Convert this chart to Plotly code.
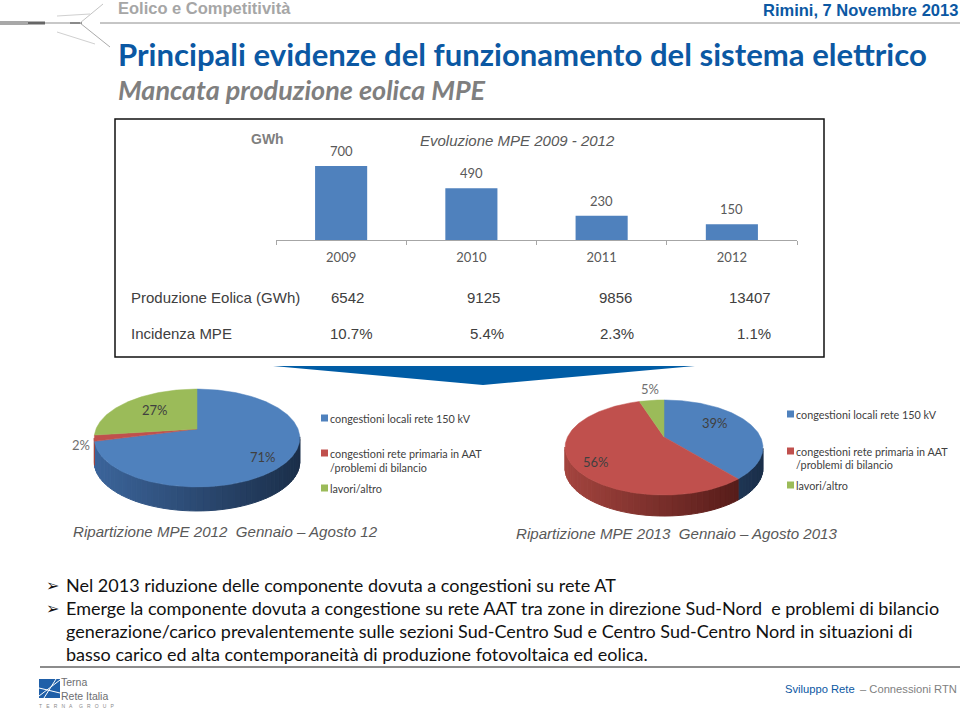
import numpy as np
import plotly.graph_objects as go

W, H = 960, 709

# ---- data ----
years = ["2009", "2010", "2011", "2012"]
mpe_gwh = [700, 490, 230, 150]
produzione = ["6542", "9125", "9856", "13407"]
incidenza = ["10.7%", "5.4%", "2.3%", "1.1%"]
pie_labels = ["congestioni locali rete 150 kV",
              "congestioni rete primaria in AAT<br>/problemi di bilancio",
              "lavori/altro"]
pie_2012 = [71, 2, 27]
pie_2013 = [39, 56, 5]
bullets = [
    "Nel 2013 riduzione delle componente dovuta a congestioni su rete AT",
    "Emerge la componente dovuta a congestione su rete AAT tra zone in direzione Sud-Nord  e problemi di bilancio",
    "generazione/carico prevalentemente sulle sezioni Sud-Centro Sud e Centro Sud-Centro Nord in situazioni di",
    "basso carico ed alta contemporaneità di produzione fotovoltaica ed eolica.",
]

# ---- styles ----
BLUE, RED, GREEN = "#4f81bd", "#c0504d", "#9bbb59"
WALLS = [(("#3c659b"), ("#1b2f4a")), (("#a4453f"), ("#4c1715")), (("#7f9a48"), ("#4f6228"))]
NAVY = "#0b58a3"
LATO, ARIAL = "Lato", "Liberation Sans"


def hex2rgb(c):
    return np.array([int(c[i:i + 2], 16) for i in (1, 3, 5)], float)


def mix(a, b, t):
    r = hex2rgb(a) * (1 - t) + hex2rgb(b) * t
    return "rgb(%d,%d,%d)" % tuple(r)


fig = go.Figure()

# bar chart through its own axes
fig.add_trace(go.Bar(x=years, y=mpe_gwh, width=0.4, marker=dict(color=BLUE, line=dict(width=0)),
                     hoverinfo="skip", xaxis="x", yaxis="y"))


def pie3d(values, cx, cy, a, b, k, depth):
    """Perspective 3D pie, clockwise from twelve o'clock, on the page axes."""
    fr = np.array(values, float) / sum(values)
    edges = np.concatenate([[0], np.cumsum(fr)]) * 2 * np.pi

    def rim(th):
        X, Y = np.sin(th), np.cos(th)
        w = 1 + k * Y
        return cx + a * X / w, cy - b * Y / w

    all_x = rim(np.linspace(0, 2 * np.pi, 721))[0]
    xmin, xmax = all_x.min(), all_x.max()
    # side wall, shaded from left to right
    for i, col in enumerate(WALLS):
        n = max(int((edges[i + 1] - edges[i]) / np.radians(3)), 1)
        th = np.linspace(edges[i], edges[i + 1], n + 1)
        for t0, t1 in zip(th[:-1], th[1:]):
            if np.cos((t0 + t1) / 2) >= -k:
                continue
            x0, y0 = rim(t0)
            x1, y1 = rim(t1)
            f = ((x0 + x1) / 2 - xmin) / (xmax - xmin)
            c = mix(col[0], col[1], f)
            fig.add_trace(go.Scatter(x=[x0, x1, x1, x0, x0], y=[y0, y1, y1 + depth, y0 + depth, y0],
                                     mode="lines", fill="toself", fillcolor=c,
                                     line=dict(color=c, width=1), hoverinfo="skip",
                                     xaxis="x2", yaxis="y2"))
    # top face
    for i, col in enumerate([BLUE, RED, GREEN]):
        th = np.linspace(edges[i], edges[i + 1], max(int(fr[i] * 360), 2) + 1)
        xs, ys = rim(th)
        fig.add_trace(go.Scatter(x=np.r_[cx, xs, cx], y=np.r_[cy, ys, cy], mode="lines", fill="toself",
                                 fillcolor=col, line=dict(color=col, width=0.5), hoverinfo="skip",
                                 xaxis="x2", yaxis="y2"))


pie3d(pie_2012, cx=197, cy=429, a=101, b=47.3, k=0.184, depth=24)
pie3d(pie_2013, cx=664, cy=437, a=96.5, b=45.2, k=0.221, depth=21)

ann = []


def text(x, y, s, size, color="#404040", font=LATO, anchor="left", bold=False, italic=False):
    if bold:
        s = f"<b>{s}</b>"
    if italic:
        s = f"<i>{s}</i>"
    ann.append(dict(x=x / W, y=1 - y / H, xref="paper", yref="paper", text=s, showarrow=False,
                    xanchor=anchor, yanchor="middle", align="left",
                    font=dict(size=size, color=color, family=font), borderpad=0, borderwidth=0))


# header
text(118, 8, "Eolico e Competitività", 16.5, "#a6a6a6", ARIAL, bold=True)
text(958, 10, "Rimini, 7 Novembre 2013", 16.5, NAVY, ARIAL, "right", bold=True)
text(118, 54, "Principali evidenze del funzionamento del sistema elettrico", 31.1, NAVY, bold=True)
text(118, 89.5, "Mancata produzione eolica MPE", 27, "#7f7f7f", bold=True, italic=True)

# framed panel
text(251, 139, "GWh", 14, "#7f7f7f", ARIAL, bold=True)
text(420, 140, "Evoluzione MPE 2009 - 2012", 15, "#595959", ARIAL, italic=True)
for i, v in enumerate(mpe_gwh):
    ann.append(dict(x=i, y=v, xref="x", yref="y", text=str(v), showarrow=False, yanchor="bottom",
                    yshift=5, font=dict(size=13, color="#595959", family=LATO)))
text(131, 297, "Produzione Eolica (GWh)", 15, "#404040", ARIAL)
text(131, 334, "Incidenza MPE", 15, "#404040", ARIAL)
for x, s in zip([331, 467, 599, 729], produzione):
    text(x, 297, s, 15, "#404040", ARIAL)
for x, s in zip([330, 470, 600, 737], incidenza):
    text(x, 334, s, 15, "#404040", ARIAL)

# pie percentages
for (x, y), v, col in zip([(263, 457), (81, 445), (155, 410)], pie_2012, ["#404040", "#6f6f6f", "#404040"]):
    text(x, y, f"{v}%", 13, col, LATO, "center")
for (x, y), v, col in zip([(715, 423), (596, 462), (650, 389)], pie_2013, ["#404040", "#404040", "#6f6f6f"]):
    text(x, y, f"{v}%", 13, col, LATO, "center")

shapes = []


def rect(x0, y0, x1, y1, fill, line=None, lw=0):
    shapes.append(dict(type="rect", xref="paper", yref="paper", x0=x0 / W, x1=x1 / W, y0=1 - y0 / H, y1=1 - y1 / H,
                       fillcolor=fill, line=dict(color=line or fill, width=lw), layer="below"))


def seg(x0, y0, x1, y1, color, lw=1):
    shapes.append(dict(type="line", xref="paper", yref="paper", x0=x0 / W, x1=x1 / W, y0=1 - y0 / H, y1=1 - y1 / H,
                       line=dict(color=color, width=lw), layer="below"))


# pie legends (manual because there are two)
for sq_x, ys in [(321, (418, 453, 488)), (787, (414, 451, 485))]:
    for sy, col in zip(ys, [BLUE, RED, GREEN]):
        rect(sq_x, sy - 3.5, sq_x + 7, sy + 3.5, col)
    gap = 14 if sq_x == 321 else 13.5
    text(sq_x + 9, ys[0], pie_labels[0], 10.8)
    line1, line2 = pie_labels[1].split("<br>")
    text(sq_x + 9, ys[1], line1, 10.8)
    text(sq_x + 9, ys[1] + gap, line2, 10.8)
    text(sq_x + 9, ys[2], pie_labels[2], 10.8)

text(73, 531, "Ripartizione MPE 2012  Gennaio – Agosto 12", 15.1, "#595959", ARIAL, italic=True)
text(516, 533, "Ripartizione MPE 2013  Gennaio – Agosto 2013", 15.1, "#595959", ARIAL, italic=True)

# bullets
for i, (y, s) in enumerate(zip([585, 608, 631, 654], bullets)):
    if i < 2:
        text(46, y, "➢", 16, "#111111", "DejaVu Sans")
    text(66, y, s, 18, "#111111")

# footer
text(785, 689, "Sviluppo Rete", 11.2, NAVY, ARIAL)
text(860, 689, "– Connessioni RTN", 11.2, "#7f7f7f", ARIAL)
text(61, 682, "Terna", 10.5, "#6d6e71", ARIAL)
text(61, 696, "Rete Italia", 10.5, "#6d6e71", ARIAL)
text(39, 706, "T   E   R   N   A     G   R   O   U   P", 5, "#8a8a8a", ARIAL)

# frame, rules, arrow, logos
rect(115, 119, 824, 357, "white", "#111111", 1.5)
seg(100, 23, 960, 23, "#8c8c8c", 1)
seg(40, 667, 960, 667, "#8c8c8c", 2)
shapes.append(dict(type="path", xref="paper", yref="paper", layer="below", line=dict(width=0), fillcolor="#005ca5",
                   path="M %f %f L %f %f L %f %f Z" % (273 / W, 1 - 366 / H, 695 / W, 1 - 366 / H, 483 / W, 1 - 385 / H)))
for x0, x1, col, lw in [(0, 28, "#a8a8a8", 4), (28, 45, "#666666", 3), (45, 70, "#c8c8c8", 2), (70, 82, "#8a8a8a", 2)]:
    seg(x0, 23, x1, 23, col, lw)
seg(80, 23, 103, 4, "#c4c4c4", 1)
seg(80, 23, 110, 47, "#aaaaaa", 1)
seg(57, 16, 90, 14, "#d0d0d0", 1)
seg(57, 32, 95, 44, "#d0d0d0", 1)
rect(39, 679, 60, 698, "#1f5fa8")
seg(39, 696, 60, 680, "white", 1)
seg(44, 698, 56, 679, "white", 1)
seg(39, 688, 60, 693, "white", 1)

fig.update_layout(
    width=W, height=H, margin=dict(l=0, r=0, t=0, b=0), autosize=False,
    paper_bgcolor="white", plot_bgcolor="rgba(0,0,0,0)", showlegend=False,
    annotations=ann, shapes=shapes,
    xaxis=dict(domain=[276 / W, 797 / W], type="category", categoryorder="array", categoryarray=years,
               range=[-0.5, 3.5], tickson="boundaries", ticks="outside", ticklen=4, tickcolor="#a6a6a6", tickwidth=1,
               showline=True, linecolor="#a6a6a6", linewidth=1, showgrid=False, zeroline=False,
               tickangle=0, automargin=False,
               tickfont=dict(size=13, color="#595959", family=LATO), ticklabelstandoff=5, anchor="y"),
    yaxis=dict(domain=[1 - 240 / H, 1 - 130 / H], range=[0, 1040], visible=False, anchor="x"),
    xaxis2=dict(domain=[0, 1], range=[0, W], visible=False, anchor="y2"),
    yaxis2=dict(domain=[0, 1], range=[H, 0], visible=False, anchor="x2"),
)

fig.write_html("out.html", post_script="document.body.style.margin='0';", config=dict(displayModeBar=False))
